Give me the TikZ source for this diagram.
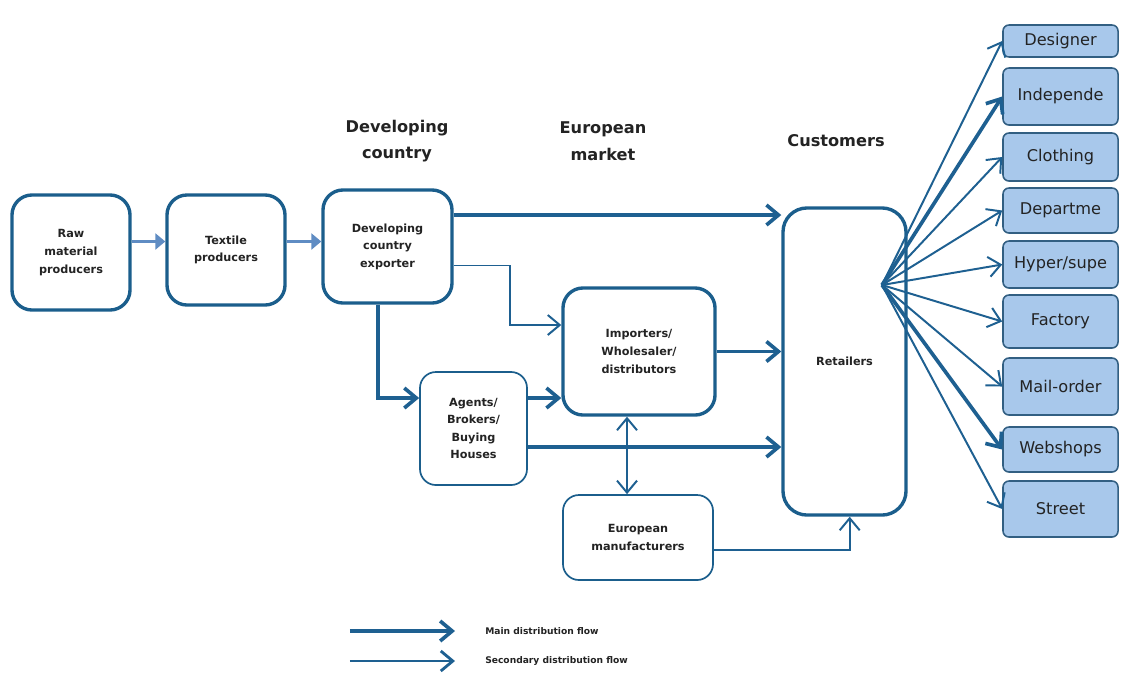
\documentclass[tikz,border=0pt]{standalone}
\usepackage{fontspec}
\setmainfont{DejaVu Sans}
\usetikzlibrary{arrows.meta}
\definecolor{boxblue}{RGB}{27,94,140}
\definecolor{flowblue}{RGB}{30,96,145}
\definecolor{feedblue}{RGB}{95,140,195}
\definecolor{outletfill}{RGB}{168,200,235}
\definecolor{outletline}{RGB}{50,95,130}
\definecolor{textgrey}{RGB}{35,35,35}
\newcommand{\boxfont}{\fontsize{8}{12.5}\selectfont\bfseries}
\newcommand{\headfont}{\fontsize{11.5}{19}\selectfont\bfseries}
\newcommand{\outletfont}{\fontsize{11.5}{13}\selectfont}
\newcommand{\keyfont}{\fontsize{6.5}{8}\selectfont\bfseries}
\tikzset{
  box/.style={draw=boxblue, line width=2.4pt, rounded corners=0.5cm, fill=white, align=center, font=\boxfont, text=textgrey},
  softbox/.style={box, line width=1.2pt, rounded corners=0.4cm},
  outlet/.style={draw=outletline, fill=outletfill, line width=1.1pt, rounded corners=0.15cm, minimum width=2.875cm, font=\outletfont, text=textgrey},
  header/.style={align=center, font=\headfont, text=textgrey},
  mainflow/.style={draw=flowblue, line width=2.6pt, -{Straight Barb[length=0.3cm,width=0.5cm]}},
  sideflow/.style={draw=flowblue, line width=1.4pt, -{Straight Barb[length=0.3cm,width=0.5cm]}},
  feed/.style={draw=feedblue, line width=2.6pt, -{Triangle[length=0.25cm,width=0.4cm]}}
}
\begin{document}
\begin{tikzpicture}[x=0.025cm,y=-0.025cm]
      \path[fill=white] (0,0) rectangle (1128,673);
      %column headings
      \node[header] (hdev) at (397,141) {Developing\\country};
      \node[header] (heu) at (603,141) {European\\market};
      \node[header] (hcus) at (836,141) {Customers};
      %supply chain
      \node[box, minimum width=2.95cm, minimum height=2.875cm] (raw) at (71,252.5) {Raw\\material\\producers};
      \node[box, minimum width=2.95cm, minimum height=2.75cm] (tex) at (226,250) {Textile\\producers};
      \node[box, minimum width=3.225cm, minimum height=2.825cm] (dev) at (387.5,246.5) {Developing\\country\\exporter};
      \node[box, minimum width=3.8cm, minimum height=3.175cm] (imp) at (639,351.5) {Importers/\\Wholesaler/\\distributors};
      \node[softbox, minimum width=2.675cm, minimum height=2.825cm] (agt) at (473.5,428.5) {Agents/\\Brokers/\\Buying\\Houses};
      \node[softbox, minimum width=3.75cm, minimum height=2.125cm] (eur) at (638,537.5) {European\\manufacturers};
      \node[box, rounded corners=0.6cm, minimum width=3.075cm, minimum height=7.675cm] (ret) at (844.5,361.5) {Retailers};
      %retail outlets
      \node[outlet, minimum height=0.8cm] (des) at (1060.5,41) {Designer};
      \node[outlet, minimum height=1.425cm] (ind) at (1060.5,96.5) {Independe};
      \node[outlet, minimum height=1.2cm] (clo) at (1060.5,157) {Clothing};
      \node[outlet, minimum height=1.125cm] (dep) at (1060.5,210.5) {Departme};
      \node[outlet, minimum height=1.175cm] (hyp) at (1060.5,264.5) {Hyper/supe};
      \node[outlet, minimum height=1.325cm] (fac) at (1060.5,321.5) {Factory};
      \node[outlet, minimum height=1.425cm] (mai) at (1060.5,386.5) {Mail-order};
      \node[outlet, minimum height=1.125cm] (web) at (1060.5,449.5) {Webshops};
      \node[outlet, minimum height=1.4cm] (str) at (1060.5,509) {Street};
      %flows
      \draw[feed] (raw.east) ++(0,-11) coordinate (r1) -- (r1 -| tex.west);
      \draw[feed] (r1 -| tex.east) -- (r1 -| dev.west);
      \draw[mainflow] (dev.east) ++(0,-31.5) coordinate (d1) -- (d1 -| ret.west);
      \path (imp.west) ++(0,-26.5) coordinate (i1);
      \draw[sideflow] (dev.east) ++(0,19) -- ++(56,0) |- (i1);
      \path (agt.west) ++(0,-30.5) coordinate (a1);
      \draw[mainflow] (dev.south) ++(-9.5,0) |- (a1);
      \draw[mainflow] (a1 -| agt.east) -- (a1 -| imp.west);
      \draw[mainflow] (imp.east) -- (imp.east -| ret.west);
      \draw[mainflow] (agt.east) ++(0,18.5) coordinate (a2) -- (a2 -| ret.west);
      \draw[sideflow, {Straight Barb[length=0.3cm,width=0.5cm]}-{Straight Barb[length=0.3cm,width=0.5cm]}] (imp.south) ++(-12,0) coordinate (i2) -- (i2 |- eur.north);
      \draw[sideflow] (eur.east) ++(0,12.5) -| ([xshift=0.13cm]ret.south);
      %fan out to outlets
      \coordinate (fan) at (882,285);
      \draw[sideflow] (fan) -- (des.west);
      \draw[mainflow] (fan) -- (ind.west);
      \draw[sideflow] (fan) -- (clo.west);
      \draw[sideflow] (fan) -- (dep.west);
      \draw[sideflow] (fan) -- (hyp.west);
      \draw[sideflow] (fan) -- (fac.west);
      \draw[sideflow] (fan) -- (mai.west);
      \draw[mainflow] (fan) -- (web.west);
      \draw[sideflow] (fan) -- (str.west);
      %key
      \node[anchor=west, font=\keyfont, text=textgrey, inner sep=0pt] (mainkey) at (485,631) {Main distribution flow};
      \node[anchor=west, font=\keyfont, text=textgrey, inner sep=0pt] (sidekey) at (485,661) {Secondary distribution flow};
      \draw[mainflow] ([xshift=-3.375cm]mainkey.west) -- ([xshift=-0.75cm]mainkey.west);
      \draw[sideflow, line width=2pt] ([xshift=-3.375cm]sidekey.west) -- ([xshift=-0.75cm]sidekey.west);
\end{tikzpicture}
\end{document}
